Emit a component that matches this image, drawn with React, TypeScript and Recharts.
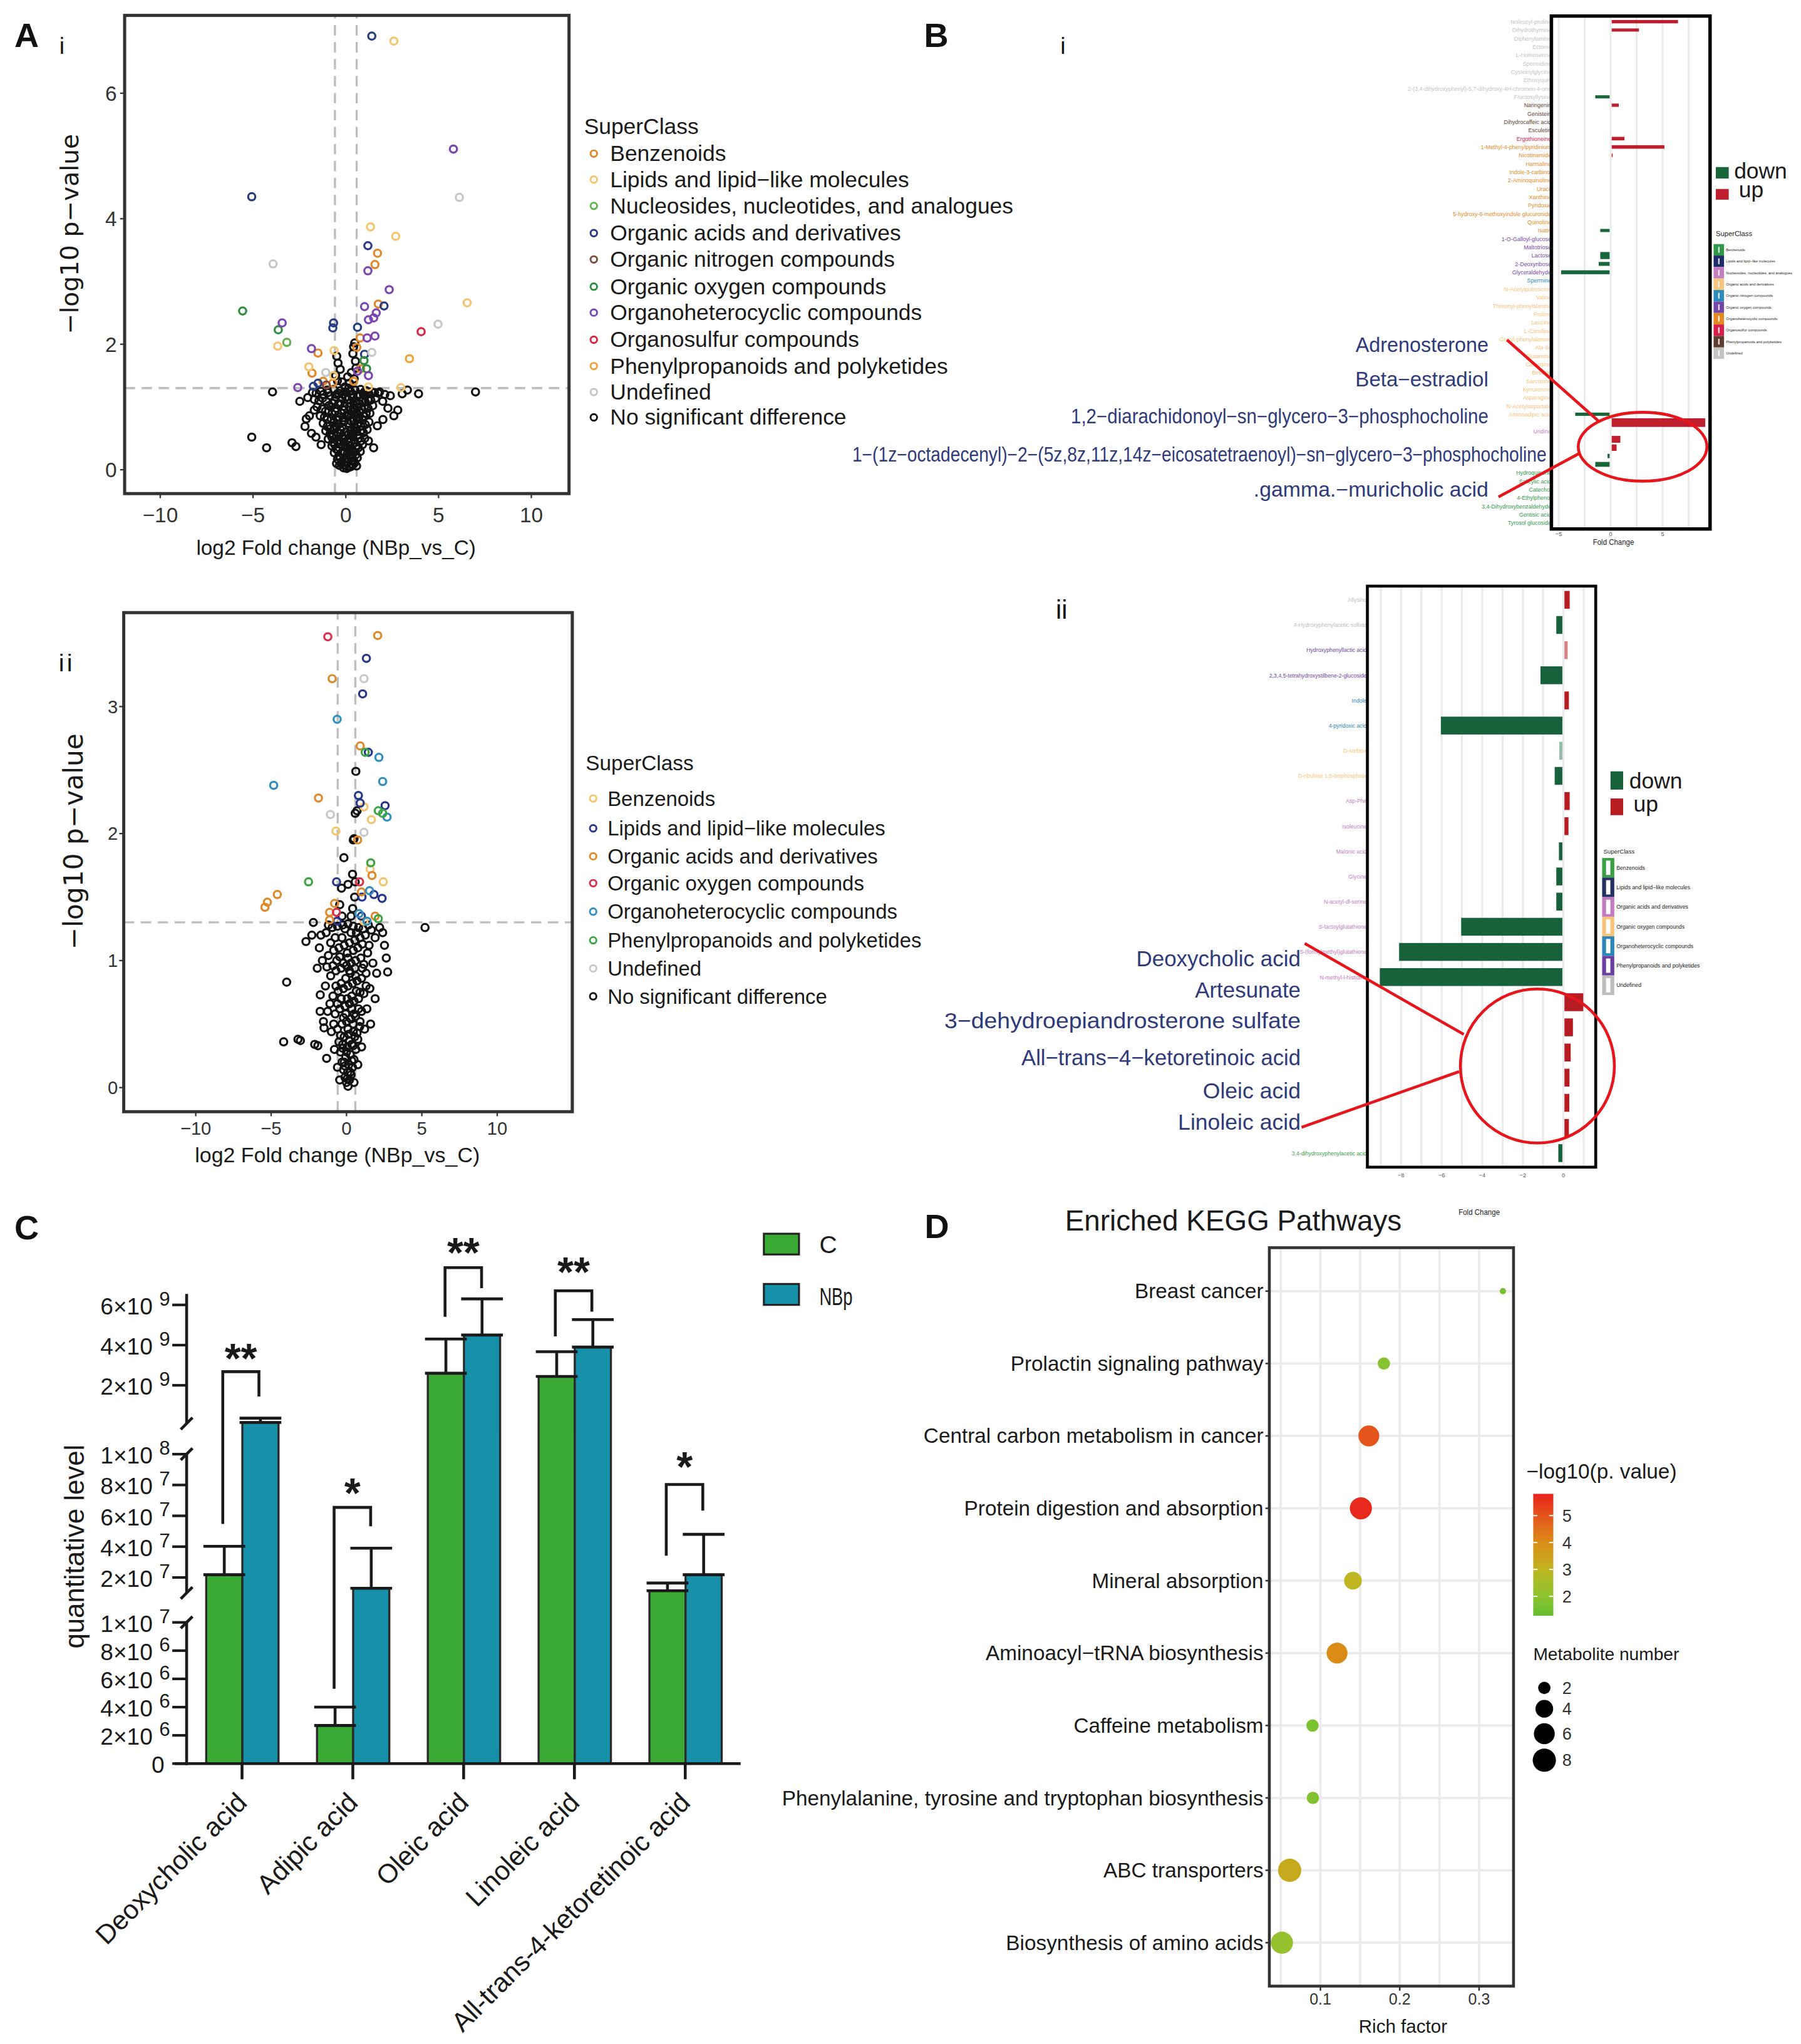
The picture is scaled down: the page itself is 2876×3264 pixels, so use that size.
import React from 'react';
import {
  ScatterChart, Scatter, BarChart, Bar, XAxis, YAxis, ZAxis,
  CartesianGrid, ReferenceLine, ErrorBar, Cell,
} from 'recharts';

const SCALE = 2.0841;
const ARIAL = "'Liberation Sans', Arial, Helvetica, sans-serif";
const DEJAVU = "'DejaVu Sans', Verdana, sans-serif";
const INK = '#1a1a1a';
const NAVY_TXT = '#2F3A7A';
const ANNOT_RED = '#E6161C';
const MINUS = '\u2212';
const fmtMinus = (v: number) => (v < 0 ? MINUS + Math.abs(v) : String(v));

const FC_CUT = 0.585;
const P_CUT = 1.301;

/* ======================= A-i volcano ======================= */
const AI_CLASSES = [
  'Benzenoids', 'Lipids and lipid−like molecules', 'Nucleosides, nucleotides, and analogues',
  'Organic acids and derivatives', 'Organic nitrogen compounds', 'Organic oxygen compounds',
  'Organoheterocyclic compounds', 'Organosulfur compounds', 'Phenylpropanoids and polyketides',
  'Undefined', 'No significant difference',
];
const AI_COLORS = ['#E0882A', '#F5C46E', '#62B04E', '#283A80', '#7A4B3B', '#2D8C3E', '#7B45AF', '#D7263F', '#EFA23A', '#C6C6C6', '#111111'];

const AI_BENZENOIDS = [[1.71, 3.45], [1.57, 3.27], [1.75, 2.64], [-1.5, 1.86], [-1.82, 1.54], [-1.22, 1.41], [-0.7, 1.38], [0.42, 1.41], [0.59, 1.95], [0.77, 2.1], [0.8, 1.61]];
const AI_LIPIDS = [[2.59, 6.83], [1.33, 3.87], [2.69, 3.72], [6.54, 2.66], [-3.67, 1.97], [-0.63, 1.9], [-1.99, 1.64], [2.97, 1.31], [1.22, 1.32], [-0.66, 1.5]];
const AI_NUCLEOSIDES = [[-3.18, 2.03]];
const AI_ORGACIDS = [[1.4, 6.91], [-5.07, 4.35], [1.19, 3.57], [2.06, 2.61], [-0.66, 2.34], [-0.7, 2.26], [0.63, 2.27], [1.01, 1.84], [-1.5, 1.38], [-1.75, 1.33]];
const AI_ORGNITROGEN = [[-1.05, 1.35]];
const AI_ORGOXYGEN = [[-5.56, 2.53], [-3.64, 2.23], [0.98, 1.74], [1.12, 1.61]];
const AI_HETERO = [[5.8, 5.11], [1.19, 3.17], [2.34, 2.87], [1.01, 2.6], [1.64, 2.5], [1.5, 2.42], [1.22, 2.39], [-3.43, 2.34], [1.57, 2.13], [1.15, 2.1], [-1.85, 1.93], [0.63, 1.57], [1.22, 1.5], [-2.59, 1.31]];
const AI_SULFUR = [[4.06, 2.2]];
const AI_PHENYL = [[3.43, 1.77]];
const AI_UNDEF = [[6.12, 4.34], [-3.92, 3.28], [4.97, 2.32], [1.4, 1.87], [-1.08, 1.55]];
const AI_NOSIG = [
  [0.05, 0.02], [0.18, 0.04], [-0.08, 0.07], [0.3, 0.09], [0.1, 0.12], [-0.22, 0.13], [0.42, 0.15], [-0.05, 0.18], [0.25, 0.2], [-0.38, 0.22],
  [0.55, 0.24], [0.08, 0.26], [-0.18, 0.29], [0.36, 0.31], [-0.52, 0.33], [0.68, 0.35], [-0.02, 0.36], [0.22, 0.39], [-0.33, 0.41], [0.5, 0.43],
  [-0.7, 0.44], [0.82, 0.46], [0.12, 0.48], [-0.15, 0.5], [0.38, 0.52], [-0.5, 0.54], [0.65, 0.55], [-0.85, 0.57], [0.95, 0.59], [0.02, 0.6],
  [0.27, 0.62], [-0.3, 0.64], [0.55, 0.66], [-0.62, 0.67], [-1.0, 0.69], [0.8, 0.7], [1.05, 0.72], [0.15, 0.74], [-0.12, 0.76], [0.42, 0.78],
  [-0.45, 0.79], [-0.78, 0.81], [0.7, 0.82], [-1.15, 0.84], [1.0, 0.85], [0.05, 0.87], [0.3, 0.88], [-0.25, 0.9], [0.58, 0.91], [-0.58, 0.93],
  [-0.92, 0.94], [0.88, 0.96], [-1.28, 0.97], [1.2, 0.98], [0.18, 1.0], [-0.08, 1.01], [0.45, 1.03], [-0.4, 1.04], [0.75, 1.05], [-0.72, 1.06],
  [1.05, 1.08], [-1.05, 1.09], [-1.45, 1.1], [1.35, 1.11], [0.1, 1.12], [-0.2, 1.14], [0.35, 1.15], [-0.55, 1.16], [0.62, 1.17], [-0.85, 1.18],
  [0.95, 1.19], [-1.2, 1.2], [1.25, 1.21], [-1.6, 1.22], [1.55, 1.23], [0.0, 1.24], [0.25, 1.25], [-0.3, 1.26], [0.5, 1.27], [-0.65, 1.28],
  [0.8, 1.28], [-1.0, 1.27], [1.1, 1.26], [-1.35, 1.25], [1.4, 1.24], [-1.8, 1.23], [1.75, 1.22], [2.1, 1.2], [-2.05, 1.15],
  [-0.35, 0.07], [0.48, 0.11], [-0.45, 0.17], [0.62, 0.19], [-0.62, 0.27], [0.78, 0.29], [-0.75, 0.38], [0.9, 0.4], [-0.95, 0.49], [1.02, 0.5],
  [-1.08, 0.62], [1.15, 0.64], [-1.22, 0.74], [1.25, 0.76], [-1.38, 0.86], [1.3, 0.9], [-1.55, 1.0], [1.45, 1.02], [-1.7, 1.12], [1.6, 1.14],
  [0.58, 0.06], [-0.5, 0.1], [0.2, 0.33], [-0.1, 0.44], [0.28, 0.56], [-0.4, 0.72], [0.45, 0.68], [-0.15, 0.83], [0.62, 0.99], [-0.5, 1.2],
  [0.15, 1.3], [-0.05, 1.32], [0.35, 0.92], [-0.28, 0.58],
  [-0.12, 0.03], [0.28, 0.05], [0.38, 0.08], [-0.25, 0.1], [0.15, 0.16], [-0.3, 0.19], [0.33, 0.23], [-0.1, 0.27], [0.45, 0.28], [-0.42, 0.31],
  [0.1, 0.34], [0.58, 0.37], [-0.6, 0.4], [0.28, 0.45], [-0.35, 0.47], [0.7, 0.5], [-0.75, 0.52], [0.15, 0.57], [-0.45, 0.6], [0.45, 0.61],
  [0.85, 0.63], [-0.85, 0.65], [-0.2, 0.68], [0.62, 0.73], [-0.65, 0.75], [0.3, 0.77], [0.9, 0.79], [-1.0, 0.8], [-0.35, 0.84], [0.15, 0.86],
  [0.5, 0.87], [-0.75, 0.89], [1.1, 0.9], [-1.1, 0.93], [-0.1, 0.95], [0.4, 0.96], [0.72, 0.94], [-0.5, 0.98], [1.0, 1.0], [-0.92, 1.02],
  [-0.3, 1.05], [0.25, 1.06], [0.55, 1.09], [-0.6, 1.1], [1.2, 1.12], [-1.25, 1.14], [0.0, 1.16], [0.72, 1.2], [-0.4, 1.22], [-0.95, 1.23],
  [0.4, 1.2], [1.0, 1.24], [-0.15, 1.2], [0.9, 1.1], [-0.8, 1.0], [0.6, 0.8], [-0.55, 0.7], [0.4, 0.58], [-0.3, 0.45], [0.2, 0.3],
  [0.42, 1.96], [0.48, 2.02], [0.38, 1.85], [-0.49, 1.81], [-0.42, 1.7], [0.52, 1.73], [0.3, 1.55], [-0.3, 1.6], [0.45, 1.45], [-0.45, 1.42],
  [0.2, 1.38], [-0.2, 1.4], [0.55, 1.62], [-0.55, 1.5], [0.1, 1.48],
  [-5.07, 0.52], [-4.27, 0.35], [-3.95, 1.24], [-2.9, 0.43], [-2.69, 0.37], [-2.48, 1.09], [-2.2, 0.69], [-2.13, 0.81], [-1.96, 0.86], [-1.85, 0.58],
  [-1.61, 0.52], [-1.33, 0.4], [1.22, 0.46], [1.99, 1.09], [1.82, 1.24], [2.27, 0.98], [2.59, 0.86], [2.8, 0.95], [3.04, 1.21], [3.32, 1.27],
  [3.92, 1.21], [6.99, 1.24], [2.4, 1.18], [1.7, 0.7], [1.5, 0.35], [-1.7, 0.95], [2.0, 0.8],
];
const AI_SERIES = [AI_BENZENOIDS, AI_LIPIDS, AI_NUCLEOSIDES, AI_ORGACIDS, AI_ORGNITROGEN, AI_ORGOXYGEN, AI_HETERO, AI_SULFUR, AI_PHENYL, AI_UNDEF, AI_NOSIG];

/* ======================= A-ii volcano ======================= */
const AII_CLASSES = [
  'Benzenoids', 'Lipids and lipid−like molecules', 'Organic acids and derivatives', 'Organic oxygen compounds',
  'Organoheterocyclic compounds', 'Phenylpropanoids and polyketides', 'Undefined', 'No significant difference',
];
const AII_COLORS = ['#F5C46E', '#27378A', '#E0892A', '#D9304F', '#2E8FC0', '#3AA644', '#C8C8C8', '#111111'];
const AII_BENZENOIDS = [[1.16, 2.21], [1.65, 2.11], [-0.7, 2.02], [1.57, 1.72], [2.44, 1.62], [1.16, 1.31]];
const AII_LIPIDS = [[1.32, 3.38], [1.07, 3.1], [1.45, 2.64], [0.79, 2.3], [0.91, 2.24], [2.56, 2.22], [-0.66, 1.62], [1.03, 1.5], [1.82, 1.52], [2.36, 1.49], [0.99, 1.35], [-0.62, 1.31]];
const AII_ORGACIDS = [[2.07, 3.56], [-0.95, 3.22], [0.91, 2.69], [-1.86, 2.28], [0.74, 1.95], [1.69, 1.67], [-4.59, 1.52], [-5.25, 1.46], [-5.41, 1.42], [0.99, 1.54], [-0.79, 1.45], [-1.12, 1.38], [1.9, 1.35], [-1.12, 1.32]];
const AII_ORGOXYGEN = [[-1.24, 3.55], [0.87, 1.62], [-0.66, 1.38]];
const AII_HETERO = [[-0.62, 2.9], [2.15, 2.6], [2.4, 2.41], [-4.83, 2.38], [2.69, 2.13], [1.53, 1.55], [0.83, 1.37], [1.36, 1.31]];
const AII_PHENYL = [[1.24, 2.64], [2.11, 2.18], [2.4, 2.16], [1.61, 1.77], [-2.52, 1.62], [2.11, 1.33]];
const AII_UNDEF = [[1.16, 3.22], [-1.07, 2.15], [1.16, 2.01]];
const AII_NOSIG = [
  [0.1, 0.01], [0.0, 0.04], [0.2, 0.06], [-0.1, 0.08], [0.3, 0.1], [0.08, 0.12], [-0.2, 0.14], [0.4, 0.16], [0.15, 0.18], [-0.3, 0.2],
  [0.5, 0.22], [-0.05, 0.24], [0.25, 0.26], [-0.4, 0.28], [0.62, 0.3], [0.05, 0.32], [0.35, 0.34], [-0.5, 0.36], [0.75, 0.38], [-0.15, 0.4],
  [0.15, 0.42], [0.45, 0.44], [-0.6, 0.46], [0.88, 0.48], [-0.3, 0.5], [0.0, 0.52], [0.3, 0.54], [0.6, 0.56], [-0.75, 0.58], [1.0, 0.6],
  [-0.45, 0.62], [-0.1, 0.64], [0.2, 0.66], [0.5, 0.68], [0.8, 0.7], [-0.9, 0.72], [1.15, 0.74], [-0.55, 0.76], [-0.2, 0.78], [0.1, 0.8],
  [0.4, 0.82], [0.7, 0.84], [1.0, 0.86], [-1.05, 0.88], [1.3, 0.9], [-0.7, 0.92], [-0.35, 0.94], [0.0, 0.96], [0.3, 0.98], [0.6, 1.0],
  [0.95, 1.02], [-1.2, 1.04], [1.4, 1.06], [-0.85, 1.08], [-0.5, 1.1], [-0.15, 1.12], [0.2, 1.14], [0.55, 1.16], [0.9, 1.18], [1.25, 1.2],
  [-1.35, 1.22], [1.65, 1.24], [-0.95, 1.26], [-0.6, 1.27], [-0.25, 1.28], [0.1, 1.29], [0.45, 1.27], [0.8, 1.26], [1.1, 1.25], [-1.7, 1.2],
  [1.9, 1.18], [-1.6, 1.0], [1.75, 0.98], [-1.4, 0.8], [1.55, 0.78], [-1.25, 0.6], [1.35, 0.62], [-1.0, 0.44], [1.2, 0.46], [-0.8, 0.3],
  [1.0, 0.32], [-0.6, 0.16], [0.75, 0.18],
  [-0.45, 0.06], [0.5, 0.04], [-0.25, 0.34], [0.55, 0.4], [-0.05, 0.58], [0.35, 0.62], [-0.35, 0.7], [0.65, 0.76], [-0.05, 0.86], [0.25, 0.9],
  [-0.65, 1.0], [0.75, 1.1], [-0.3, 1.18], [0.05, 1.06], [1.05, 0.94], [-1.1, 0.66], [0.45, 0.5], [-0.15, 0.2], [0.9, 0.52], [-0.85, 0.5],
  [0.05, 0.07], [0.25, 0.12], [-0.1, 0.17], [0.35, 0.21], [0.0, 0.28], [-0.25, 0.31], [0.45, 0.33], [0.2, 0.37], [-0.4, 0.41], [0.7, 0.43],
  [0.1, 0.46], [-0.2, 0.55], [0.5, 0.58], [0.8, 0.62], [-0.6, 0.66], [0.05, 0.7], [0.35, 0.72], [-0.35, 0.82], [0.6, 0.88], [-0.9, 0.96],
  [1.15, 0.97], [0.1, 1.02], [-0.45, 1.03], [0.45, 1.08], [-1.05, 1.14], [1.05, 1.13], [0.3, 1.22], [-0.75, 1.18], [0.65, 1.22], [-0.1, 1.25],
  [1.45, 1.28], [-1.2, 1.28], [0.9, 0.75], [-0.7, 0.8], [1.3, 0.8], [-1.3, 0.95], [0.2, 0.92], [-0.2, 0.98], [0.55, 0.94], [1.5, 1.12],
  [0.62, 2.49], [0.58, 2.16], [0.7, 2.18], [0.45, 1.95], [0.5, 1.96], [-0.17, 1.81], [0.58, 1.62], [0.4, 1.68], [-0.33, 1.57], [-0.45, 1.44],
  [0.54, 1.5], [0.41, 1.41], [0.3, 1.35], [-0.3, 1.35], [0.1, 1.6],
  [5.21, 1.26], [-2.69, 1.15], [-1.94, 0.94], [-3.97, 0.83], [2.52, 1.12], [2.64, 1.02], [2.73, 0.91], [-1.74, 0.73], [-4.17, 0.36], [-3.22, 0.38],
  [-3.06, 0.37], [-2.11, 0.34], [-1.9, 0.33], [-1.32, 0.23], [-1.53, 0.52], [-1.49, 0.47], [-2.2, 1.3], [-2.3, 1.2], [2.2, 1.26], [2.4, 1.22],
  [1.9, 0.7], [1.6, 0.5], [2.0, 0.9], [-1.8, 1.1], [-1.75, 0.6],
];
const AII_SERIES = [AII_BENZENOIDS, AII_LIPIDS, AII_ORGACIDS, AII_ORGOXYGEN, AII_HETERO, AII_PHENYL, AII_UNDEF, AII_NOSIG];

/* ======================= B-i fold change bars ======================= */
const BI_CLASSES = [
  'Benzenoids', 'Lipids and lipid−like molecules', 'Nucleosides, nucleotides, and analogues', 'Organic acids and derivatives',
  'Organic nitrogen compounds', 'Organic oxygen compounds', 'Organoheterocyclic compounds', 'Organosulfur compounds',
  'Phenylpropanoids and polyketides', 'Undefined',
];
const BI_CLASS_COLORS = ['#2E9A48', '#1F2C6C', '#C57DC2', '#F6C47E', '#2B8BBA', '#7446A8', '#E38B1F', '#D5204C', '#5E3D2E', '#C4C4C4'];
const BI_NAMES = [
  'Isoleucyl-proline', 'Dihydrothymine', 'Diphenylamine', 'Ectoine', 'L-Homoserine', 'Spermidine', 'Cysteinylglycine', 'Ethoxyquin',
  '2-(3,4-dihydroxyphenyl)-5,7-dihydroxy-4H-chromen-4-one', 'Fructosyllysine',
  'Naringenin', 'Genistein', 'Dihydrocaffeic acid', 'Esculetin',
  'Ergothioneine',
  '1-Methyl-4-phenylpyridinium', 'Nicotinamide', 'Harmaline', 'Indole-3-carbinol', '2-Aminoquinoline', 'Uracil', 'Xanthine', 'Pyridoxal',
  '5-hydroxy-6-methoxyindole glucuronide', 'Quinoline', 'Isatin',
  '1-O-Galloyl-glucose', 'Maltotriose', 'Lactose', '2-Deoxyribose', 'Glyceraldehyde',
  'Spermine',
  'N-Acetylputrescine', 'Valine', 'Threonyl-phenylalanine', 'Proline', 'Leucine', 'L-Citrulline', 'Glycyl-phenylalanine',
  'Ala-Ile', 'Glutamine', 'Carnosine', 'Betaine', 'Sarcosine', 'Kynurenine', 'Asparagine', 'N-Acetylaspartate', 'Aminoadipic acid',
  'Adrenosterone', 'Uridine', 'Beta-estradiol', '1,2-diarachidonoyl-sn-glycero-3-phosphocholine',
  '1-(1z-octadecenyl)-2-(5z,8z,11z,14z-eicosatetraenoyl)-sn-glycero-3-phosphocholine', '.gamma.-muricholic acid',
  'Hydroquinone', 'Salicylic acid', 'Catechol', '4-Ethylphenol', '3,4-Dihydroxybenzaldehyde', 'Gentisic acid', 'Tyrosol glucoside',
];
const BI_CLASS = [
  9, 9, 9, 9, 9, 9, 9, 9, 9, 9,
  8, 8, 8, 8,
  7,
  6, 6, 6, 6, 6, 6, 6, 6, 6, 6, 6,
  5, 5, 5, 5, 5,
  4,
  3, 3, 3, 3, 3, 3, 3, 3, 3, 3, 3, 3, 3, 3, 3, 3,
  1, 2, 1, 1, 1, 1,
  0, 0, 0, 0, 0, 0, 0,
];
const BI_FOLD = [
  6.48, 2.72, 0, 0, 0, 0, 0, 0, 0, -1.48,
  0.78, 0, 0, 0,
  1.33,
  5.17, 0.2, 0, 0, 0, 0, 0, 0, 0, 0, -1.0,
  0, 0, -1.0, -1.15, -4.77,
  0,
  0, 0, 0, 0, 0, 0, 0, 0, 0, 0, 0, 0, 0, 0, 0, -3.41,
  9.1, 0, 0.93, 0.57, -0.3, -1.48,
  0, 0, 0, 0, 0, 0, 0,
];
const BI_WEIGHT = [
  0.43, 0.4, 0.42, 0.42, 0.42, 0.42, 0.42, 0.42, 0.42, 0.4,
  0.42, 0.42, 0.42, 0.42,
  0.45,
  0.45, 0.42, 0.42, 0.42, 0.42, 0.42, 0.42, 0.42, 0.42, 0.42, 0.4,
  0.42, 0.42, 0.9, 0.5, 0.5,
  0.42,
  0.42, 0.42, 0.42, 0.42, 0.42, 0.42, 0.42, 0.42, 0.42, 0.42, 0.42, 0.42, 0.42, 0.42, 0.42, 0.42,
  1.1, 0.42, 0.87, 0.82, 0.55, 0.62,
  0.42, 0.42, 0.42, 0.42, 0.42, 0.42, 0.42,
];
const BI_GRID = [-5, -2.5, 0, 2.5, 5, 7.5];
const BI_LABELLED = [-5, 0, 5];

/* ======================= B-ii fold change bars ======================= */
const BII_CLASSES = [
  'Benzenoids', 'Lipids and lipid−like molecules', 'Organic acids and derivatives', 'Organic oxygen compounds',
  'Organoheterocyclic compounds', 'Phenylpropanoids and polyketides', 'Undefined',
];
const BII_CLASS_COLORS = ['#39A043', '#233064', '#C27BC0', '#F7C47C', '#2A86B6', '#6B3FA0', '#BDBDBD'];
const BII_NAMES = [
  'Allysine', '4-Hydroxyphenylacetic sulfate', 'Hydroxyphenyllactic acid', '2,3,4,5-tetrahydroxystilbene-2-glucoside', 'Indole',
  '4-pyridoxic acid', 'D-sorbitol', 'D-ribulose 1,5-bisphosphate', 'Asp-Phe', 'Isoleucine', 'Malonic acid', 'Glycine',
  'N-acetyl-dl-serine', 'S-lactoylglutathione', 'S-(formylmethyl)glutathione', 'N-methyl-l-histidine',
  'Deoxycholic acid', 'Artesunate', '3-dehydroepiandrosterone sulfate', 'All-trans-4-ketoretinoic acid', 'Oleic acid', 'Linoleic acid',
  '3,4-dihydroxyphenylacetic acid',
];
const BII_CLASS = [6, 6, 5, 5, 4, 4, 3, 3, 2, 2, 2, 2, 2, 2, 2, 2, 1, 1, 1, 1, 1, 1, 0];
const BII_FOLD = [0.31, -0.35, 0.21, -1.13, 0.27, -6.04, -0.2, -0.43, 0.31, 0.25, -0.22, -0.35, -0.35, -5.04, -8.1, -9.05, 0.98, 0.47, 0.36, 0.3, 0.29, 0.27, -0.25];
const BII_ALPHA = [1, 1, 0.55, 1, 1, 1, 0.45, 1, 1, 1, 1, 1, 1, 1, 1, 1, 1, 1, 1, 1, 1, 1, 1];
const BII_GRID = [-9, -8, -7, -6, -5, -4, -3, -2, -1, 0, 1];
const BII_LABELLED = [-8, -6, -4, -2, 0];

const BI_NOTES = ['Adrenosterone', 'Beta−estradiol', '1,2−diarachidonoyl−sn−glycero−3−phosphocholine', '1−(1z−octadecenyl)−2−(5z,8z,11z,14z−eicosatetraenoyl)−sn−glycero−3−phosphocholine', '.gamma.−muricholic acid'];
const BII_NOTES = ['Deoxycholic acid', 'Artesunate', '3−dehydroepiandrosterone sulfate', 'All−trans−4−ketoretinoic acid', 'Oleic acid', 'Linoleic acid'];

/* ======================= C quantitative levels ======================= */
const C_CATS = ['Deoxycholic acid', 'Adipic acid', 'Oleic acid', 'Linoleic acid', 'All-trans-4-ketoretinoic acid'];
const C_CTRL = [2.18e7, 2.7e6, 2.6e9, 2.44e9, 1.14e7];
const C_CTRL_SD = [1.84e7, 1.3e6, 1.7e9, 1.23e9, 5.0e6];
const C_NBP = [1.5e8, 1.3e7, 4.5e9, 3.9e9, 2.18e7];
const C_NBP_SD = [2.16e8, 2.6e7, 1.8e9, 1.37e9, 2.62e7];
const C_SIG = ['**', '*', '**', '**', '*'];
const C_TICK_VALUES = [0, 2e6, 4e6, 6e6, 8e6, 1e7, 2e7, 4e7, 6e7, 8e7, 1e8, 2e9, 4e9, 6e9];
const C_TICK_LABELS = [['0', ''], ['2×10', '6'], ['4×10', '6'], ['6×10', '6'], ['8×10', '6'], ['1×10', '7'], ['2×10', '7'], ['4×10', '7'], ['6×10', '7'], ['8×10', '7'], ['1×10', '8'], ['2×10', '9'], ['4×10', '9'], ['6×10', '9']];
const C_GREEN = '#3AAA35';
const C_BLUE = '#1790A9';

// broken axis: three linear pieces laid out along the axis (display units)
const C_AXIS_LEN = 359.9;
function brk(v: number) {
  if (v <= 1e7) return (v / 1e7) * 108.2;
  if (v <= 1e8) return 130.8 + ((v - 1e7) / 9e7) * 106.3;
  return 260.6 + ((v - 1e8) / 1e9) * 15.4;
}
const C_BOTTOM = 1351.3;

/* ======================= D KEGG enrichment ======================= */
const D_PATHWAYS = [
  'Breast cancer', 'Prolactin signaling pathway', 'Central carbon metabolism in cancer', 'Protein digestion and absorption',
  'Mineral absorption', 'Aminoacyl−tRNA biosynthesis', 'Caffeine metabolism', 'Phenylalanine, tyrosine and tryptophan biosynthesis',
  'ABC transporters', 'Biosynthesis of amino acids',
];
const D_RICH = [0.330, 0.180, 0.161, 0.151, 0.141, 0.121, 0.090, 0.0905, 0.0612, 0.0515];
const D_LOGP = [1.6, 1.9, 5.0, 5.7, 3.0, 4.0, 1.7, 1.8, 3.3, 2.2];
const D_COUNT = [1, 2, 6, 7, 4, 6, 2, 2, 8, 7];
const D_XTICKS = [0.05, 0.1, 0.15, 0.2, 0.25, 0.3];
const D_XLABELLED = [0.1, 0.2, 0.3];
const D_CBAR_MIN = 1.28;
const D_CBAR_MAX = 5.81;
const D_CBAR_STOPS: [number, string][] = [[1.28, '#66BD2E'], [2, '#8CC431'], [3, '#BFB520'], [4, '#DB8C17'], [5, '#E5551B'], [5.81, '#E8221E']];
const D_CBAR_TICKS = [2, 3, 4, 5];
const D_SIZE_LEGEND = [2, 4, 6, 8];
const D_Z_DOMAIN = [1, 8];
const D_Z_RANGE = [18.1, 248.8];

function hexRgb(h: string) {
  return [parseInt(h.slice(1, 3), 16), parseInt(h.slice(3, 5), 16), parseInt(h.slice(5, 7), 16)];
}
function dColor(v: number) {
  const s = D_CBAR_STOPS;
  if (v <= s[0][0]) return s[0][1];
  for (let i = 1; i < s.length; i++) {
    if (v <= s[i][0]) {
      const t = (v - s[i - 1][0]) / (s[i][0] - s[i - 1][0]);
      const a = hexRgb(s[i - 1][1]);
      const b = hexRgb(s[i][1]);
      const c = a.map((av, k) => Math.round(av + (b[k] - av) * t));
      return `rgb(${c[0]},${c[1]},${c[2]})`;
    }
  }
  return s[s.length - 1][1];
}
// same sqrt mapping as the ZAxis (symbol area vs sqrt(count))
function dRadius(n: number) {
  const f = (Math.sqrt(n) - Math.sqrt(D_Z_DOMAIN[0])) / (Math.sqrt(D_Z_DOMAIN[1]) - Math.sqrt(D_Z_DOMAIN[0]));
  const area = D_Z_RANGE[0] + f * (D_Z_RANGE[1] - D_Z_RANGE[0]);
  return Math.sqrt(area / Math.PI);
}

/* ======================= shared renderers ======================= */
const ring = (color: string) => (p: any) => (
  <circle cx={p.cx} cy={p.cy} r={2.75} fill="none" stroke={color} strokeWidth={1.55} />
);

const near = (list: number[], v: number) => list.some((m) => Math.abs(m - v) < 1e-6);

const makeFcTick = (labelled: number[], fs: number, dy: number) => (p: any) => {
  const v = Number(p.payload.value);
  if (!near(labelled, v)) return <g />;
  return (
    <text x={p.x} y={p.y + dy} textAnchor="middle" dominantBaseline="central" fontSize={fs} fill="#555">
      {fmtMinus(v)}
    </text>
  );
};

const makeNameTick = (names: string[], cls: number[], colors: string[], hiddenClass: number, fs: number) => (p: any) => {
  const i = names.indexOf(p.payload.value);
  if (i < 0 || cls[i] === hiddenClass) return <g />;
  return (
    <text x={p.x} y={p.y} textAnchor="end" dominantBaseline="central" fontSize={fs} fill={colors[cls[i]]}>
      {p.payload.value}
    </text>
  );
};

const makeBarShape = (up: string, down: string) => (p: any) => {
  const d = p.payload;
  const v = d.value;
  if (!v) return <g />;
  const x0 = Number(p.x);
  const w = Number(p.width);
  let l = Math.min(x0, x0 + w);
  let r = Math.max(x0, x0 + w);
  if (v > 0) l += 0.8; else r -= 0.8;
  if (r - l < 0.5) { if (v > 0) r = l + 0.5; else l = r - 0.5; }
  const cy = Number(p.y) + Number(p.height) / 2;
  const h = Number(p.height) * d.weight;
  return <rect x={l} y={cy - h / 2} width={r - l} height={h} fill={v > 0 ? up : down} fillOpacity={d.alpha} />;
};

/* ======================= panels ======================= */
function Volcano(props: any) {
  const p = props;
  const n = p.series.length;
  const order = [n - 1, ...Array.from({ length: n - 1 }, (_, i) => i)];
  const dash = { stroke: '#BDBDBD', strokeWidth: 1.6, strokeDasharray: '8 5' };
  return (
    <div style={{ position: 'absolute', left: 0, top: p.top }}>
      <ScatterChart width={450} height={440} margin={p.margin}>
        <XAxis type="number" dataKey="x" domain={p.xDomain} allowDataOverflow ticks={[-10, -5, 0, 5, 10]} interval={0}
          axisLine={false} tickSize={3.5} tickMargin={p.xTickMargin} tickLine={{ stroke: '#333', strokeWidth: 1.1 }}
          tick={{ fontSize: p.tickFont, fill: '#333' }} tickFormatter={fmtMinus} height={40} />
        <YAxis type="number" dataKey="y" domain={p.yDomain} allowDataOverflow ticks={p.yTicks} interval={0}
          axisLine={false} tickSize={3.5} tickMargin={p.yTickMargin} tickLine={{ stroke: '#333', strokeWidth: 1.1 }}
          tick={{ fontSize: p.tickFont, fill: '#333' }} width={40} />
        <ReferenceLine x={-FC_CUT} {...dash} />
        <ReferenceLine x={FC_CUT} {...dash} />
        <ReferenceLine y={P_CUT} {...dash} />
        {order.map((i) => (
          <Scatter key={i} name={p.classes[i]} data={p.series[i].map(([x, y]: number[]) => ({ x, y }))}
            shape={ring(p.colors[i])} isAnimationActive={false} />
        ))}
      </ScatterChart>
    </div>
  );
}

function PanelBi() {
  const data = BI_NAMES.map((name, i) => ({ name, value: BI_FOLD[i], weight: BI_WEIGHT[i], alpha: 1 }));
  return (
    <div style={{ position: 'absolute', left: 1000, top: 0 }}>
      <BarChart layout="vertical" width={330} height={430} data={data} margin={{ top: 13.6, right: 21, bottom: 6, left: 0 }} barCategoryGap={0}>
        <CartesianGrid horizontal={false} stroke="#EBEBEB" strokeWidth={1.5} />
        <XAxis type="number" domain={[-5.54, 9.4]} allowDataOverflow ticks={BI_GRID} interval={0} axisLine={false} tickLine={false}
          tickSize={0} tickMargin={0} height={20} tick={makeFcTick(BI_LABELLED, 4.4, 5.5)} />
        <YAxis type="category" dataKey="name" width={190} interval={0} axisLine={false} tickLine={false} tickSize={0} tickMargin={1.5}
          tick={makeNameTick(BI_NAMES, BI_CLASS, BI_CLASS_COLORS, 1, 4.3)} />
        <Bar dataKey="value" shape={makeBarShape('#BE1E2D', '#18673A')} isAnimationActive={false} />
      </BarChart>
    </div>
  );
}

function PanelBii() {
  const data = BII_NAMES.map((name, i) => ({ name, value: BII_FOLD[i], weight: 0.72, alpha: BII_ALPHA[i] }));
  return (
    <div style={{ position: 'absolute', left: 900, top: 440 }}>
      <BarChart layout="vertical" width={340} height={480} data={data} margin={{ top: 10.1, right: 18.3, bottom: 6.7, left: 0 }} barCategoryGap={0}>
        <CartesianGrid horizontal={false} stroke="#EBEBEB" strokeWidth={1.6} />
        <XAxis type="number" domain={[-9.6, 1.53]} allowDataOverflow ticks={BII_GRID} interval={0} axisLine={false} tickLine={false}
          tickSize={0} tickMargin={0} height={20} tick={makeFcTick(BII_LABELLED, 4.4, 7.4)} />
        <YAxis type="category" dataKey="name" width={148.7} interval={0} axisLine={false} tickLine={false} tickSize={0} tickMargin={1.5}
          tick={makeNameTick(BII_NAMES, BII_CLASS, BII_CLASS_COLORS, 1, 4.2)} />
        <Bar dataKey="value" shape={makeBarShape('#B71C23', '#17623A')} isAnimationActive={false} />
      </BarChart>
    </div>
  );
}

const CYTick = (p: any) => {
  const i = C_TICK_VALUES.findIndex((t) => Math.abs(brk(t) - Number(p.payload.value)) < 0.01);
  if (i < 0) return <g />;
  const [m, e] = C_TICK_LABELS[i];
  if (!e) {
    return <text x={p.x - 4} y={p.y + 1} textAnchor="end" dominantBaseline="central" fontSize={17.8} fill={INK}>{m}</text>;
  }
  return (
    <g>
      <text x={p.x - 13} y={p.y + 1} textAnchor="end" dominantBaseline="central" fontSize={17.8} fill={INK}>{m}</text>
      <text x={p.x - 8} y={p.y - 4.6} textAnchor="start" dominantBaseline="central" fontSize={15} fill={INK}>{e}</text>
    </g>
  );
};

const CXTick = (p: any) => {
  const ax = p.x + 5;
  const ay = p.y + 17;
  return (
    <text x={ax} y={ay} textAnchor="end" fontSize={20.5} fill={INK} transform={`rotate(-45 ${ax} ${ay})`}>
      {p.payload.value}
    </text>
  );
};

function PanelC() {
  const data = C_CATS.map((name, i) => {
    const c = brk(C_CTRL[i]);
    const n = brk(C_NBP[i]);
    return {
      name, c, n,
      cErr: [0, brk(C_CTRL[i] + C_CTRL_SD[i]) - c],
      nErr: [0, brk(C_NBP[i] + C_NBP_SD[i]) - n],
    };
  });
  return (
    <div style={{ position: 'absolute', left: 0, top: 900 }}>
      <BarChart width={600} height={666} data={data} margin={{ top: 91.4, right: 32.5, bottom: 8.7, left: 83 }} barGap={0} barSize={27.7}>
        <XAxis dataKey="name" type="category" interval={0} height={206} tickSize={12} tickMargin={2}
          axisLine={{ stroke: INK, strokeWidth: 2.2 }} tickLine={{ stroke: INK, strokeWidth: 2.2 }} tick={CXTick} />
        <YAxis type="number" domain={[0, C_AXIS_LEN]} allowDataOverflow ticks={C_TICK_VALUES.map(brk)} interval={0} width={60}
          tickSize={11} tickMargin={2} axisLine={false} tickLine={{ stroke: INK, strokeWidth: 2 }} tick={CYTick} />
        <Bar dataKey="c" name="C" fill={C_GREEN} stroke="#2a2a2a" strokeWidth={1.6} isAnimationActive={false}>
          <ErrorBar dataKey="cErr" width={16} stroke={INK} strokeWidth={2.2} direction="y" isAnimationActive={false} />
        </Bar>
        <Bar dataKey="n" name="NBp" fill={C_BLUE} stroke="#2a2a2a" strokeWidth={1.6} isAnimationActive={false}>
          <ErrorBar dataKey="nErr" width={16} stroke={INK} strokeWidth={2.2} direction="y" isAnimationActive={false} />
        </Bar>
      </BarChart>
    </div>
  );
}

const DXTick = (p: any) => {
  const v = Number(p.payload.value);
  if (!near(D_XLABELLED, v)) return <g />;
  return (
    <g>
      <line x1={p.x} x2={p.x} y1={p.y - 5} y2={p.y - 1.5} stroke="#333" strokeWidth={1.2} />
      <text x={p.x} y={p.y + 5} textAnchor="middle" dominantBaseline="central" fontSize={12} fill="#333">{v.toFixed(1)}</text>
    </g>
  );
};
const DYTick = (p: any) => {
  const i = Math.round(Number(p.payload.value)) - 1;
  return (
    <text x={p.x} y={p.y} textAnchor="end" dominantBaseline="central" fontSize={16} fill={INK}>{D_PATHWAYS[i]}</text>
  );
};

function PanelD() {
  const data = D_PATHWAYS.map((name, i) => ({ name, x: D_RICH[i], y: i + 1, z: D_COUNT[i], p: D_LOGP[i] }));
  return (
    <div style={{ position: 'absolute', left: 580, top: 900 }}>
      <ScatterChart width={800} height={666} margin={{ top: 56, right: 220.3, bottom: 14.2, left: 2.6 }}>
        <CartesianGrid stroke="#EBEBEB" strokeWidth={1.8} />
        <XAxis type="number" dataKey="x" domain={[0.0356, 0.3434]} allowDataOverflow ticks={D_XTICKS} interval={0}
          axisLine={false} tickLine={false} tickSize={3} tickMargin={2} height={30} tick={DXTick} />
        <YAxis type="number" dataKey="y" domain={[0.4, 10.6]} allowDataOverflow reversed ticks={[1, 2, 3, 4, 5, 6, 7, 8, 9, 10]} interval={0}
          axisLine={false} tickSize={3} tickMargin={1.5} tickLine={{ stroke: '#333', strokeWidth: 1.2 }} width={390} tick={DYTick} />
        <ZAxis type="number" dataKey="z" scale="sqrt" domain={D_Z_DOMAIN} range={D_Z_RANGE} />
        <Scatter data={data} stroke="none" isAnimationActive={false}>
          {data.map((d, i) => <Cell key={i} fill={dColor(d.p)} />)}
        </Scatter>
      </ScatterChart>
    </div>
  );
}

/* ======================= overlay (frames, legends, annotations) ======================= */
function Overlay() {
  const cy = (v: number) => C_BOTTOM - brk(v);
  const cbarY = (v: number) => 1238 - ((v - D_CBAR_MIN) / (D_CBAR_MAX - D_CBAR_MIN)) * 93.4;
  const aiY = [117.7, 137.6, 157.8, 178.6, 198.8, 219.6, 239.5, 260.3, 280.5, 300.4, 319.8];
  const aiiY = [611.8, 634.7, 656.1, 676.7, 698.5, 720.5, 742, 763.4];
  const biNoteY = [264.4, 290.7, 319, 348.3, 375.2];
  const biNoteX = [1140.5, 1140.5, 1140.5, 1185, 1140.5];
  const biNoteW = [101.8, 102, 320, 532, 180];
  const biiNoteY = [734.4, 758.2, 781.9, 810.4, 835.8, 859.4];
  const biiNoteW = [126, 81, 273, 214, 75, 94];
  const brackets = [
    [170.7, 198.4, 1051, 1167.6, 1070, 1033],
    [256, 284, 1155, 1294, 1169.5, 1136],
    [341, 369, 971.3, 1009, 987, 952],
    [425.5, 453.5, 989, 1024, 1005, 967],
    [510.5, 538.5, 1137.4, 1192, 1157.5, 1116],
  ];
  const segs = [
    [C_BOTTOM - C_AXIS_LEN, cy(1.0000001e8)],
    [cy(1e8), cy(1.0000001e7)],
    [cy(1e7), C_BOTTOM + 1.1],
  ];
  const breaks = [cy(1.0000001e8), cy(1e8), cy(1.0000001e7), cy(1e7)];
  return (
    <svg width={1380} height={1566} style={{ position: 'absolute', left: 0, top: 0, overflow: 'visible', pointerEvents: 'none' }} fontFamily={ARIAL}>
      <defs>
        <linearGradient id="pcbar" x1="0" y1="1" x2="0" y2="0">
          {D_CBAR_STOPS.map(([v, c], i) => (
            <stop key={i} offset={(v - D_CBAR_MIN) / (D_CBAR_MAX - D_CBAR_MIN)} stopColor={c} />
          ))}
        </linearGradient>
      </defs>

      {/* panel letters */}
      <text x={11} y={36} fontSize={26} fontWeight="bold" fill="#111">A</text>
      <text x={45.5} y={41.5} fontSize={18} fill="#111">i</text>
      <text x={45} y={514.5} fontSize={19} fill="#111" letterSpacing={2}>ii</text>
      <text x={708} y={36} fontSize={26} fontWeight="bold" fill="#111">B</text>
      <text x={812.5} y={41.5} fontSize={18} fill="#111">i</text>
      <text x={809} y={474} fontSize={20} fill="#111">ii</text>
      <text x={11} y={949.5} fontSize={26} fontWeight="bold" fill="#111">C</text>
      <text x={708.5} y={948.6} fontSize={26} fontWeight="bold" fill="#111">D</text>

      {/* A-i frame, titles, legend */}
      <rect x={95.5} y={11.8} width={340.5} height={366.4} fill="none" stroke="#333" strokeWidth={2.4} />
      <text x={257.5} y={419.5} fontSize={16} textAnchor="middle" dominantBaseline="central" fill={INK}>log2 Fold change (NBp_vs_C)</text>
      <text x={53.5} y={179.3} fontSize={18.8} fontFamily={DEJAVU} textAnchor="middle" dominantBaseline="central" fill={INK}
        transform="rotate(-90 53.5 179.3)">{MINUS}log10 p{MINUS}value</text>
      <text x={447.5} y={97} fontSize={17} dominantBaseline="central" fill={INK}>SuperClass</text>
      {AI_CLASSES.map((c, i) => (
        <g key={c}>
          <circle cx={455} cy={aiY[i]} r={2.5} fill="none" stroke={AI_COLORS[i]} strokeWidth={1.4} />
          <text x={467.5} y={aiY[i]} fontSize={17} dominantBaseline="central" fill={INK}>{c}</text>
        </g>
      ))}

      {/* A-ii frame, titles, legend */}
      <rect x={94.8} y={469.4} width={343.7} height={382.4} fill="none" stroke="#333" strokeWidth={2.4} />
      <text x={258.5} y={885} fontSize={16.3} textAnchor="middle" dominantBaseline="central" fill={INK}>log2 Fold change (NBp_vs_C)</text>
      <text x={56.6} y={644.7} fontSize={20.3} fontFamily={DEJAVU} textAnchor="middle" dominantBaseline="central" fill={INK}
        transform="rotate(-90 56.6 644.7)">{MINUS}log10 p{MINUS}value</text>
      <text x={448.8} y={584.6} fontSize={16} dominantBaseline="central" fill={INK}>SuperClass</text>
      {AII_CLASSES.map((c, i) => (
        <g key={c}>
          <circle cx={454.5} cy={aiiY[i]} r={2.5} fill="none" stroke={AII_COLORS[i]} strokeWidth={1.4} />
          <text x={465.5} y={aiiY[i]} fontSize={15.8} dominantBaseline="central" fill={INK}>{c}</text>
        </g>
      ))}

      {/* B-i frame, legend, annotation */}
      <rect x={1188.7} y={12.3} width={121.6} height={393} fill="none" stroke="#000" strokeWidth={2.6} />
      <text x={1236.3} y={415.3} fontSize={5.8} textAnchor="middle" dominantBaseline="central" textLength={31.5} lengthAdjust="spacingAndGlyphs" fill="#222">Fold Change</text>
      <rect x={1314.7} y={128} width={9.9} height={8.8} fill="#18673A" />
      <text x={1328.7} y={136.8} fontSize={17} fill={INK}>down</text>
      <rect x={1314.7} y={144.8} width={9.9} height={8.2} fill="#BE1E2D" />
      <text x={1332.4} y={151} fontSize={17} fill={INK}>up</text>
      <text x={1314.7} y={179.2} fontSize={5.4} dominantBaseline="central" fill="#222">SuperClass</text>
      {BI_CLASSES.map((c, i) => (
        <g key={c}>
          <rect x={1313} y={187 + i * 8.8} width={8} height={8.8} fill={BI_CLASS_COLORS[i]} />
          <rect x={1316.5} y={189.2 + i * 8.8} width={1.1} height={4.4} fill="#fff" opacity={0.85} />
          <text x={1322.5} y={191.4 + i * 8.8} fontSize={2.8} dominantBaseline="central" fill="#222">{c}</text>
        </g>
      ))}
      {BI_NOTES.map((t, i) => (
        <text key={t} x={biNoteX[i]} y={biNoteY[i]} fontSize={15.5} textAnchor="end" dominantBaseline="central" fill={NAVY_TXT}
          textLength={biNoteW[i]} lengthAdjust="spacingAndGlyphs">{t}</text>
      ))}
      <ellipse cx={1258.6} cy={342.3} rx={49.3} ry={26.4} fill="none" stroke={ANNOT_RED} strokeWidth={2.2} />
      <line x1={1154.7} y1={260.4} x2={1224.5} y2={322.3} stroke={ANNOT_RED} strokeWidth={2.2} />
      <line x1={1148.2} y1={380.7} x2={1210.7} y2={347.1} stroke={ANNOT_RED} strokeWidth={2.2} />

      {/* B-ii frame, legend, annotation */}
      <rect x={1047.7} y={449.1} width={175} height={445.2} fill="none" stroke="#000" strokeWidth={2.2} />
      <text x={1133.4} y={929} fontSize={5.8} textAnchor="middle" dominantBaseline="central" textLength={31.6} lengthAdjust="spacingAndGlyphs" fill="#222">Fold Change</text>
      <rect x={1234} y={591} width={9.7} height={14} fill="#17623A" />
      <text x={1248.4} y={604.2} fontSize={17} fill={INK}>down</text>
      <rect x={1234} y={611.8} width={9.7} height={12.8} fill="#B71C23" />
      <text x={1251.6} y={621.8} fontSize={17} fill={INK}>up</text>
      <text x={1228.7} y={652.2} fontSize={4.6} dominantBaseline="central" fill="#222">SuperClass</text>
      {BII_CLASSES.map((c, i) => (
        <g key={c}>
          <rect x={1227.6} y={657.4 + i * 15} width={9.3} height={15} fill={BII_CLASS_COLORS[i]} />
          <rect x={1230.6} y={659.4 + i * 15} width={3.3} height={11} fill="#fff" />
          <text x={1238.5} y={664.9 + i * 15} fontSize={4.2} dominantBaseline="central" fill="#222">{c}</text>
        </g>
      ))}
      {BII_NOTES.map((t, i) => (
        <text key={t} x={996.6} y={biiNoteY[i]} fontSize={16.8} textAnchor="end" dominantBaseline="central" fill={NAVY_TXT}
          textLength={biiNoteW[i]} lengthAdjust="spacingAndGlyphs">{t}</text>
      ))}
      <circle cx={1178} cy={816.8} r={59} fill="none" stroke={ANNOT_RED} strokeWidth={2.2} />
      <line x1={999.7} y1={722.9} x2={1121.6} y2={792.6} stroke={ANNOT_RED} strokeWidth={2.2} />
      <line x1={997.3} y1={863.7} x2={1118} y2={821.1} stroke={ANNOT_RED} strokeWidth={2.2} />

      {/* C: broken y axis, brackets, legend, title */}
      {segs.map(([a, b], i) => (
        <line key={i} x1={143} x2={143} y1={a} y2={b} stroke={INK} strokeWidth={2.2} />
      ))}
      {breaks.map((y, i) => (
        <line key={i} x1={138.5} y1={y + 4.5} x2={147.5} y2={y - 4.5} stroke={INK} strokeWidth={2.2} />
      ))}
      <line x1={134} x2={144} y1={C_BOTTOM} y2={C_BOTTOM} stroke={INK} strokeWidth={2.2} />
      {brackets.map(([xl, xr, top, ll, lr, sy], i) => (
        <g key={i}>
          <polyline points={`${xl},${ll} ${xl},${top} ${xr},${top} ${xr},${lr}`} fill="none" stroke={INK} strokeWidth={2.2} />
          <text x={(xl + xr) / 2} y={sy + 18.7} fontSize={32} fontWeight="bold" textAnchor="middle" fill={INK}>{C_SIG[i]}</text>
        </g>
      ))}
      <text x={57} y={1185} fontSize={21} textAnchor="middle" dominantBaseline="central" fill={INK} transform="rotate(-90 57 1185)">quantitative level</text>
      <rect x={585.3} y={945.3} width={26.9} height={15.9} fill={C_GREEN} stroke="#222" strokeWidth={1.5} />
      <text x={627.8} y={953.6} fontSize={18.7} dominantBaseline="central" fill={INK}>C</text>
      <rect x={585.3} y={983.8} width={26.9} height={16} fill={C_BLUE} stroke="#222" strokeWidth={1.5} />
      <text x={627.8} y={993.5} fontSize={18.7} dominantBaseline="central" fill={INK} textLength={25.5} lengthAdjust="spacingAndGlyphs">NBp</text>

      {/* D: frame, title, legends */}
      <rect x={972.6} y={956} width={187.1} height={565.8} fill="none" stroke="#333" strokeWidth={2.2} />
      <text x={945} y={935.4} fontSize={22} textAnchor="middle" dominantBaseline="central" fill={INK}>Enriched KEGG Pathways</text>
      <text x={1075} y={1552.5} fontSize={14.2} textAnchor="middle" dominantBaseline="central" fill={INK}>Rich factor</text>
      <text x={1169.6} y={1127.4} fontSize={16} dominantBaseline="central" fill={INK}>{MINUS}log10(p. value)</text>
      <rect x={1174.8} y={1144.6} width={15.4} height={93.4} fill="url(#pcbar)" />
      {D_CBAR_TICKS.map((v) => (
        <g key={v}>
          <line x1={1174.8} x2={1178} y1={cbarY(v)} y2={cbarY(v)} stroke="#fff" strokeWidth={0.9} />
          <line x1={1187} x2={1190.2} y1={cbarY(v)} y2={cbarY(v)} stroke="#fff" strokeWidth={0.9} />
          <text x={1197} y={cbarY(v)} fontSize={13} dominantBaseline="central" fill="#333">{v}</text>
        </g>
      ))}
      <text x={1174.8} y={1267.6} fontSize={13.5} dominantBaseline="central" fill={INK}>Metabolite number</text>
      {D_SIZE_LEGEND.map((n, i) => {
        const y = [1293.3, 1309.3, 1328.4, 1348.7][i];
        return (
          <g key={n}>
            <circle cx={1183.3} cy={y} r={dRadius(n)} fill="#000" />
            <text x={1197} y={y} fontSize={13} dominantBaseline="central" fill="#333">{n}</text>
          </g>
        );
      })}
    </svg>
  );
}

export default function App() {
  return (
    <div style={{ position: 'absolute', left: 0, top: 0, width: 2876, height: 3264, overflow: 'hidden', background: '#fff' }}>
      <div style={{ position: 'absolute', left: 0, top: 0, width: 1380, height: 1566, transform: `scale(${SCALE})`, transformOrigin: '0 0', fontFamily: ARIAL, color: INK }}>
        <Volcano top={0} margin={{ top: 11.8, right: 14, bottom: 21.8, left: 55.5 }} xDomain={[-11.92, 12.03]} yDomain={[-0.38, 7.24]}
          yTicks={[0, 2, 4, 6]} series={AI_SERIES} colors={AI_COLORS} classes={AI_CLASSES} tickFont={16} xTickMargin={7} yTickMargin={2.5} />
        <Volcano top={458} margin={{ top: 11.4, right: 11.5, bottom: 6.2, left: 54.8 }} xDomain={[-14.78, 14.98]} yDomain={[-0.19, 3.74]}
          yTicks={[0, 1, 2, 3]} series={AII_SERIES} colors={AII_COLORS} classes={AII_CLASSES} tickFont={14} xTickMargin={4} yTickMargin={1} />
        <PanelBi />
        <PanelBii />
        <PanelC />
        <PanelD />
        <Overlay />
      </div>
    </div>
  );
}
